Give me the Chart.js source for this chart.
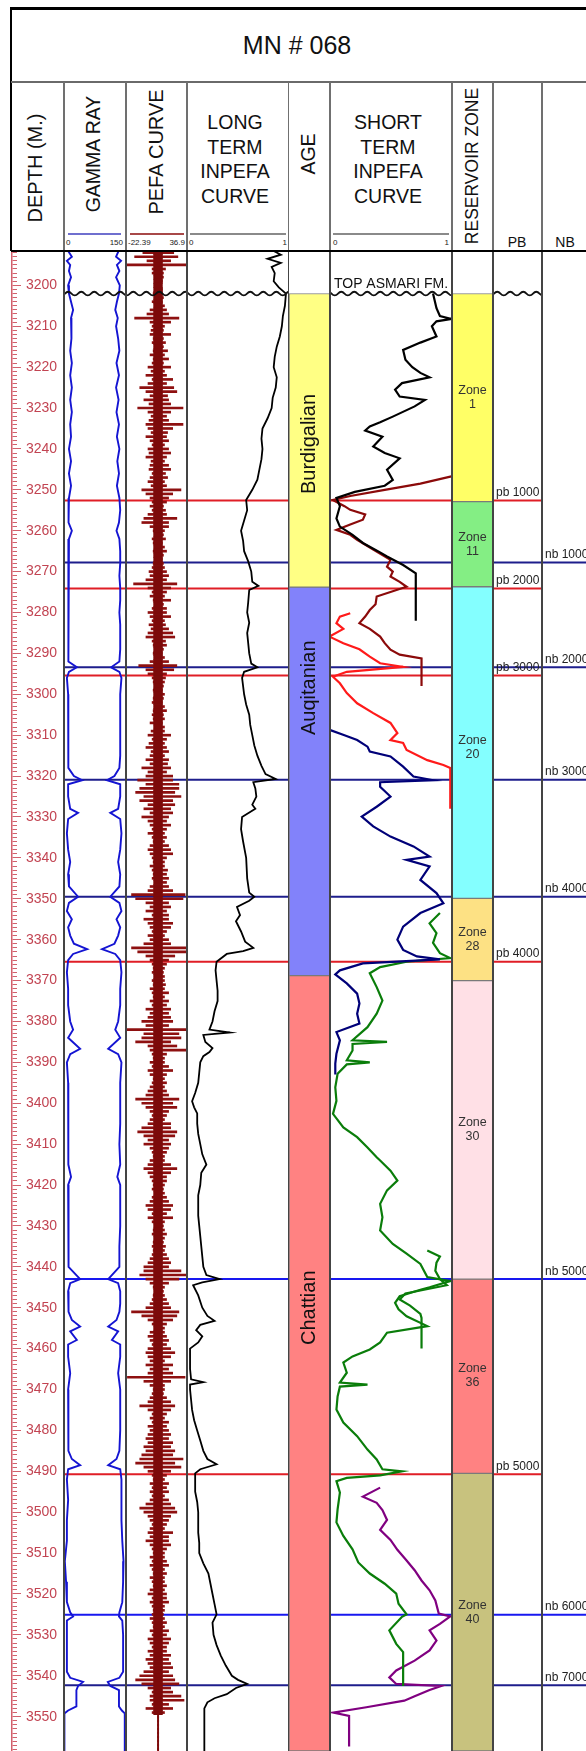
<!DOCTYPE html>
<html>
<head>
<meta charset="utf-8">
<script src="https://cdn.jsdelivr.net/npm/chart.js@4.4.1/dist/chart.umd.min.js"></script>
<style>
html, body { margin: 0; padding: 0; background: #fff; }
#page { position: relative; width: 586px; height: 1751px; overflow: hidden; font-family: Arial, "Liberation Sans", sans-serif; color: #111; }
#page canvas { position: absolute; top: 251px; }
.ln { position: absolute; }
.t { position: absolute; white-space: nowrap; line-height: 1; }
.c { transform: translate(-50%, -50%); text-align: center; }
.r90 { transform: translate(-50%, -50%) rotate(-90deg); }
.l { transform: translate(0, -50%); }
.rt { transform: translate(-100%, -50%); }
.sc { font-size: 8px; color: #222; top: 243px; }
</style>
</head>
<body>
<div id="page">
  <div class="t c" style="left:297px;top:45px;font-size:25px">MN # 068</div>
  <div class="t r90" style="left:35px;top:168px;font-size:20px">DEPTH (M.)</div>
  <div class="t r90" style="left:94px;top:154px;font-size:19.5px">GAMMA RAY</div>
  <div class="t r90" style="left:156px;top:152px;font-size:20px">PEFA CURVE</div>
  <div class="t c" style="left:235px;top:159px;font-size:19.5px;line-height:24.5px">LONG<br>TERM<br>INPEFA<br>CURVE</div>
  <div class="t r90" style="left:309px;top:154px;font-size:19.5px">AGE</div>
  <div class="t c" style="left:388px;top:159px;font-size:19.5px;line-height:24.5px">SHORT<br>TERM<br>INPEFA<br>CURVE</div>
  <div class="t r90" style="left:473px;top:166px;font-size:17.5px">RESERVOIR ZONE</div>
  <div class="t c" style="left:517px;top:242px;font-size:14px">PB</div>
  <div class="t c" style="left:565px;top:242px;font-size:14px">NB</div>

  <div class="ln" style="left:68px;top:233px;width:53px;height:2px;background:#6f6fcf"></div>
  <div class="ln" style="left:130px;top:233px;width:54px;height:2px;background:#a84848"></div>
  <div class="ln" style="left:190px;top:233px;width:96px;height:2px;background:#8a8a8a"></div>
  <div class="ln" style="left:333px;top:233px;width:116px;height:2px;background:#8a8a8a"></div>
  <div class="t sc l" style="left:66px">0</div>
  <div class="t sc rt" style="left:123px">150</div>
  <div class="t sc l" style="left:128px">-22.39</div>
  <div class="t sc rt" style="left:185px">36.9</div>
  <div class="t sc l" style="left:189px">0</div>
  <div class="t sc rt" style="left:287px">1</div>
  <div class="t sc l" style="left:333px">0</div>
  <div class="t sc rt" style="left:449px">1</div>
</div>
<script>
// depth window of the log (m)
const DEPTH_MIN = 3191.6;
const DEPTH_MAX = 3558.4;
const topAsmariDepth = 3202;

// boundaries
const pbDepths = [3252.6, 3274.1, 3295.4, 3365.4, 3490.7];
const pbLabels = ['pb 1000', 'pb 2000', 'pb 3000', 'pb 4000', 'pb 5000'];
const nbDepths = [3267.8, 3293.4, 3320.9, 3349.5, 3443.0, 3525.1, 3542.3];
const nbLabels = ['nb 1000', 'nb 2000', 'nb 3000', 'nb 4000', 'nb 5000', 'nb 6000', 'nb 7000'];

// age column
const ageNames = ['Burdigalian', 'Auqitanian', 'Chattian'];
const ageTop = [3202, 3273.8, 3368.8];
const ageBase = [3273.8, 3368.8, 3558.4];
const ageLabelDepth = [3238.8, 3298.4, 3450.0];

// reservoir zones
const zoneNames = ['Zone\n1', 'Zone\n11', 'Zone\n20', 'Zone\n28', 'Zone\n30', 'Zone\n36', 'Zone\n40'];
const zoneTop = [3202, 3252.9, 3273.7, 3349.9, 3370.0, 3443.0, 3490.5];
const zoneBase = [3252.9, 3273.7, 3349.9, 3370.0, 3443.0, 3490.5, 3558.4];
const zoneLabelDepth = [3227.4, 3263.5, 3313.0, 3359.9, 3406.5, 3466.6, 3524.6];

// gamma ray, two traces [depth, API]
const grLeft = [[3191.6,10],[3193,19],[3194,7],[3195,15],[3196.5,12],[3198,17],[3200,10],[3202,12],[3204,17],[3206,22],[3208,17],[3210,19],[3213,17],[3216,15],[3219,19],[3222,15],[3225,19],[3228,15],[3231,19],[3234,15],[3237,17],[3240,12],[3243,17],[3246,12],[3249,17],[3252,12],[3255,10],[3258,12],[3260,19],[3262,12],[3265,10],[3268,10],[3271,12],[3274,10],[3277,10],[3280,12],[3283,10],[3286,10],[3289,10],[3292,12],[3293.4,31],[3294.5,12],[3296,7],[3300,10],[3305,10],[3310,10],[3315,10],[3318,12],[3320,24],[3321,44],[3322,10],[3325,10],[3328,15],[3329,34],[3330.5,10],[3334,7],[3338,10],[3341,15],[3344,10],[3347,12],[3349.5,34],[3351,12],[3353,7],[3355,19],[3357,10],[3359,15],[3361,24],[3362.3,56],[3363.5,22],[3365,10],[3368,7],[3372,10],[3376,10],[3380,15],[3382,22],[3384,10],[3386.7,39],[3388,15],[3390,7],[3395,10],[3400,10],[3405,10],[3410,12],[3415,10],[3418,17],[3420,10],[3425,10],[3430,10],[3435,12],[3440,12],[3443,39],[3444,15],[3446,10],[3449,10],[3451,12],[3453,19],[3454.6,39],[3455.8,15],[3457.9,31],[3459,10],[3462,10],[3466,15],[3470,10],[3475,10],[3480,10],[3485,12],[3487,19],[3488.5,39],[3489.5,10],[3492,7],[3497,10],[3502,7],[3507,7],[3512,2],[3517,5],[3522,7],[3524.5,15],[3525.5,22],[3526.5,7],[3530,7],[3535,7],[3539,7],[3540.5,15],[3541.5,46],[3542.5,34],[3543.5,30],[3547.5,30],[3548.5,10],[3549.2,1],[3558.4,1]];
const grRight = [[3191.6,132],[3193,126],[3194,138],[3195,128],[3196.5,134],[3198,126],[3200,135],[3202,133],[3204,128],[3206,124],[3208,130],[3210,126],[3213,131],[3216,134],[3219,127],[3222,133],[3225,126],[3228,132],[3231,127],[3234,133],[3237,128],[3240,134],[3243,129],[3246,133],[3249,128],[3252,134],[3255,136],[3258,133],[3260,127],[3262,134],[3265,136],[3268,136],[3271,134],[3274,136],[3277,136],[3280,134],[3283,136],[3286,136],[3289,136],[3292,134],[3293.4,114],[3294.5,134],[3296,139],[3300,136],[3305,136],[3310,136],[3315,136],[3318,134],[3320,122],[3321,104],[3322,136],[3325,136],[3328,131],[3329,112],[3330.5,136],[3334,139],[3338,136],[3341,131],[3344,136],[3347,134],[3349.5,112],[3351,134],[3353,139],[3355,127],[3357,136],[3359,131],[3361,122],[3362.3,92],[3363.5,124],[3365,136],[3368,139],[3372,136],[3376,136],[3380,131],[3382,124],[3384,136],[3386.7,107],[3388,131],[3390,139],[3395,136],[3400,136],[3405,136],[3410,134],[3415,136],[3418,129],[3420,136],[3425,136],[3430,136],[3435,134],[3440,134],[3443,107],[3444,131],[3446,136],[3449,136],[3451,134],[3453,127],[3454.6,107],[3455.8,131],[3457.9,116],[3459,136],[3462,136],[3466,131],[3470,136],[3475,136],[3480,136],[3485,134],[3487,127],[3488.5,107],[3489.5,136],[3492,139],[3497,138],[3502,140],[3507,141],[3512,144],[3517,143],[3522,141],[3524.5,134],[3525.5,133],[3526.5,141],[3530,143],[3535,143],[3539,143],[3540.5,134],[3541.5,106],[3542.5,112],[3543.5,133],[3547.5,133],[3548.5,140],[3549.2,147],[3558.4,147]];

// PEFA: [low, high] per metre starting at 3192 m
const PEFA_START = 3192;
const pefaRange = [
  [-6,24],[-14,28],[-2,21],[-22.4,36.9],[3,16],[3,14],[5,14],[6,13],[5,12],[6,13],
  [4,13],[5,14],[3,13],[5,15],[1,17],[-2,19],[-14,29],[1,21],[3,15],[2,14],
  [1,21],[4,14],[3,16],[5,14],[4,18],[1,15],[4,19],[3,14],[-1,21],[2,15],
  [-3,17],[3,23],[-1,17],[-9,24],[-3,27],[1,18],[-5,19],[0,21],[-11,33],[-1,21],
  [2,17],[0,19],[-3,33],[-1,23],[2,18],[-3,17],[1,19],[3,15],[-1,19],[0,21],
  [-3,17],[2,15],[1,19],[0,21],[3,16],[1,18],[-1,15],[2,17],[-7,31],[-3,23],
  [1,19],[3,17],[1,14],[3,16],[-1,17],[-5,27],[-7,19],[1,19],[4,15],[5,14],
  [3,16],[4,13],[5,15],[4,17],[5,14],[6,13],[4,14],[3,15],[0,17],[1,19],
  [-3,17],[-15,27],[-1,21],[3,17],[1,15],[4,21],[5,14],[3,17],[-1,17],[1,21],
  [3,15],[0,16],[2,19],[-1,23],[-3,25],[3,16],[4,17],[5,14],[4,13],[5,15],
  [1,19],[-10,27],[-3,24],[-1,17],[3,16],[4,15],[5,14],[4,13],[5,15],[4,14],
  [3,13],[5,15],[4,17],[3,14],[4,15],[1,13],[5,15],[2,15],[-1,21],[3,17],
  [0,15],[-3,17],[2,19],[1,15],[-3,19],[1,18],[-7,21],[-1,17],[-3,23],[-11,23],
  [-3,29],[-9,29],[-13,25],[-5,31],[-9,23],[-1,25],[-5,21],[1,23],[-7,19],[-1,17],
  [1,21],[3,17],[-1,15],[3,17],[4,15],[1,19],[-1,21],[1,23],[3,17],[4,15],
  [1,15],[3,18],[4,17],[3,19],[5,17],[1,19],[-1,23],[-17,35],[-13,33],[-3,19],
  [1,21],[-3,17],[3,19],[-5,19],[-1,23],[1,21],[3,17],[-1,15],[1,19],[-5,21],
  [-17,36.9],[-11,36.9],[-3,25],[1,19],[3,17],[4,15],[3,14],[5,15],[3,15],[4,16],
  [1,15],[3,19],[4,15],[1,19],[3,17],[-3,21],[1,19],[-1,21],[-7,23],[-3,19],
  [-22.4,36.9],[-5,29],[-7,31],[-13,21],[-1,27],[1,36.9],[3,17],[4,15],[1,15],[3,19],
  [-1,23],[1,17],[4,15],[3,17],[1,15],[-1,17],[-3,19],[-13,29],[-7,23],[-3,27],
  [1,19],[3,17],[1,15],[-1,21],[-7,21],[-11,27],[-5,25],[-1,19],[-5,21],[1,19],
  [3,17],[4,15],[1,15],[-1,21],[-5,27],[-1,21],[1,17],[3,17],[4,15],[3,14],
  [5,15],[3,17],[1,19],[-3,23],[-1,21],[3,17],[-1,23],[3,15],[5,14],[4,15],
  [3,17],[5,15],[4,14],[3,16],[4,15],[3,17],[1,19],[-1,21],[-5,19],[-5,31],
  [-9,36.9],[-3,29],[1,19],[4,15],[5,14],[4,15],[3,17],[1,19],[-3,21],[-17,29],
  [-7,27],[-1,23],[3,17],[5,15],[1,15],[-1,17],[1,19],[3,17],[-1,21],[-3,25],
  [-1,21],[1,15],[-3,23],[1,19],[-1,23],[-21,35],[-5,21],[1,15],[4,15],[3,14],
  [1,17],[-1,21],[-9,25],[-1,21],[3,17],[1,15],[3,19],[-1,17],[1,19],[-1,21],
  [-3,19],[-1,23],[-5,21],[-3,25],[-7,23],[-9,33],[-13,25],[-5,31],[-1,21],[3,17],
  [4,15],[1,19],[3,17],[1,19],[3,15],[1,19],[-3,21],[-9,25],[-5,27],[-1,21],
  [1,19],[3,17],[1,15],[-1,23],[1,19],[-3,19],[1,21],[3,17],[4,15],[1,15],
  [3,17],[1,19],[3,15],[4,17],[1,15],[3,15],[4,17],[1,15],[-1,17],[3,17],
  [1,19],[3,15],[4,15],[3,14],[1,15],[3,17],[4,15],[1,19],[3,17],[-1,21],
  [1,19],[3,17],[-1,17],[1,21],[-3,19],[-1,21],[1,23],[-5,19],[-9,23],[-13,25],
  [-7,29],[-1,21],[3,23],[1,31],[1,34],[3,19],[-3,23],[3,15],[8.2,9.4],[8.2,9.4],
  [8.2,9.4],[8.2,9.4],[8.2,9.4],[8.2,9.4],[8.2,9.4],[8.2,9.4],[8.2,9.4]
];
const PEFA_CORE = [4.5, 13]; // dense centre band of the trace
const PEFA_CORE_END = 358;   // below this index the log is a flat line

// long term INPEFA [depth, value 0..1]
const ltCurve = [[3191.6,0.85],[3192.5,0.92],[3193.5,0.79],[3194.5,0.92],[3195.5,0.83],[3197.0,0.86],[3199.0,0.85],[3200.5,0.90],[3202.0,0.97],[3205.0,0.96],[3207.5,0.94],[3210.0,0.93],[3212.5,0.91],[3215.0,0.88],[3217.5,0.86],[3220.0,0.85],[3222.5,0.88],[3225.0,0.87],[3227.5,0.84],[3230.0,0.83],[3232.5,0.79],[3235.0,0.74],[3237.5,0.73],[3240.0,0.74],[3242.5,0.73],[3245.0,0.71],[3247.5,0.69],[3250.0,0.64],[3252.5,0.58],[3255.0,0.59],[3257.5,0.56],[3260.0,0.53],[3262.5,0.55],[3265.0,0.56],[3267.5,0.60],[3270.0,0.63],[3272.5,0.64],[3273.5,0.70],[3274.5,0.61],[3277.5,0.60],[3280.0,0.59],[3282.5,0.61],[3285.0,0.59],[3287.5,0.60],[3290.0,0.61],[3292.5,0.63],[3293.4,0.69],[3294.5,0.56],[3296.0,0.54],[3300.0,0.56],[3302.5,0.58],[3305.0,0.61],[3307.5,0.62],[3310.0,0.64],[3312.5,0.66],[3315.0,0.69],[3317.5,0.73],[3319.5,0.77],[3320.7,0.87],[3321.5,0.65],[3323.0,0.67],[3325.0,0.68],[3327.0,0.64],[3328.0,0.67],[3330.0,0.54],[3333.0,0.53],[3336.0,0.55],[3340.0,0.58],[3345.0,0.59],[3348.5,0.61],[3349.5,0.66],[3350.5,0.61],[3352.0,0.49],[3354.0,0.52],[3355.5,0.48],[3358.0,0.53],[3360.5,0.57],[3362.0,0.65],[3362.8,0.55],[3363.5,0.39],[3365.4,0.29],[3367.5,0.28],[3370.0,0.29],[3372.5,0.30],[3375.0,0.30],[3377.5,0.27],[3380.0,0.25],[3382.0,0.22],[3382.7,0.42],[3383.3,0.16],[3385.0,0.18],[3386.5,0.25],[3387.5,0.22],[3388.5,0.16],[3390.0,0.13],[3392.5,0.12],[3395.0,0.11],[3397.5,0.08],[3399.5,0.05],[3401.0,0.07],[3402.5,0.10],[3405.0,0.10],[3407.5,0.11],[3410.0,0.13],[3412.5,0.15],[3415.0,0.19],[3417.0,0.14],[3420.0,0.13],[3422.5,0.11],[3425.0,0.11],[3427.5,0.11],[3430.0,0.12],[3432.5,0.13],[3435.0,0.14],[3437.5,0.15],[3440.0,0.16],[3442.0,0.19],[3443.0,0.32],[3443.8,0.15],[3444.5,0.06],[3447.0,0.11],[3450.0,0.15],[3452.0,0.20],[3453.2,0.27],[3454.2,0.13],[3455.5,0.09],[3457.0,0.15],[3458.5,0.11],[3460.0,0.03],[3462.5,0.03],[3465.0,0.03],[3467.5,0.04],[3468.2,0.16],[3468.8,0.03],[3470.0,0.03],[3472.5,0.04],[3475.0,0.05],[3477.5,0.07],[3480.0,0.10],[3482.5,0.13],[3485.0,0.16],[3487.0,0.20],[3488.3,0.29],[3489.5,0.13],[3490.5,0.08],[3492.5,0.08],[3495.0,0.08],[3497.5,0.10],[3500.0,0.11],[3502.5,0.11],[3505.0,0.11],[3507.5,0.12],[3510.0,0.12],[3512.5,0.16],[3515.0,0.21],[3517.5,0.23],[3520.0,0.25],[3522.5,0.27],[3525.0,0.29],[3527.0,0.25],[3530.0,0.26],[3532.5,0.29],[3535.0,0.33],[3537.5,0.38],[3540.0,0.44],[3541.0,0.50],[3542.0,0.59],[3543.0,0.48],[3544.5,0.39],[3545.5,0.27],[3546.5,0.20],[3548.0,0.17],[3558.4,0.17]];

// short term INPEFA segments [depth, value 0..1]
const stBlack = [[3202.0,0.87],[3205.6,0.90],[3207.5,0.93],[3208.2,1.03],[3208.8,0.90],[3210.0,0.86],[3212.5,0.90],[3214.0,0.76],[3215.8,0.61],[3218.2,0.63],[3220.0,0.69],[3221.4,0.76],[3222.5,0.84],[3223.9,0.60],[3225.5,0.54],[3227.2,0.58],[3228.0,0.80],[3229.6,0.71],[3232.1,0.52],[3233.5,0.41],[3234.5,0.32],[3235.5,0.28],[3237.0,0.43],[3239.4,0.35],[3241.0,0.45],[3242.3,0.58],[3245.1,0.47],[3247.6,0.52],[3249.0,0.45],[3250.5,0.19],[3252.0,0.03],[3254.0,0.06],[3257.0,0.03],[3259.0,0.06],[3261.0,0.17],[3263.0,0.26],[3265.0,0.39],[3266.3,0.47],[3268.4,0.61],[3270.4,0.72],[3282.0,0.72]];
const stDarkRed = [[3246.7,1.03],[3248.5,0.76],[3250.0,0.45],[3251.5,0.15],[3252.5,0.00],[3254.0,0.10],[3254.9,0.15],[3256.0,0.28],[3257.3,0.26],[3258.5,0.15],[3259.8,0.03],[3261.0,0.15],[3262.2,0.21],[3264.6,0.35],[3267.1,0.50],[3268.8,0.47],[3270.0,0.52],[3271.2,0.50],[3272.5,0.58],[3273.7,0.64],[3275.0,0.50],[3276.1,0.38],[3278.0,0.37],[3279.4,0.32],[3281.0,0.28],[3282.6,0.23],[3284.0,0.32],[3285.9,0.41],[3287.5,0.45],[3289.1,0.50],[3290.3,0.58],[3291.2,0.77],[3298.0,0.77]];
const stRed = [[3280.2,0.15],[3281.0,0.06],[3282.6,0.03],[3284.0,0.09],[3285.9,-0.03],[3287.5,0.09],[3289.0,0.23],[3290.8,0.32],[3292.4,0.41],[3293.3,0.61],[3294.5,0.12],[3295.7,0.00],[3297.3,0.06],[3299.7,0.12],[3302.2,0.21],[3304.6,0.35],[3307.0,0.50],[3309.5,0.56],[3311.2,0.50],[3311.9,0.61],[3313.6,0.64],[3316.1,0.82],[3317.3,0.96],[3318.0,1.02],[3328.0,1.02]];
const stNavy = [[3308.7,-0.03],[3310.0,0.10],[3311.2,0.21],[3312.8,0.30],[3314.0,0.32],[3315.2,0.50],[3317.7,0.61],[3320.1,0.70],[3321.0,0.87],[3321.5,0.41],[3322.6,0.41],[3325.0,0.50],[3327.5,0.38],[3329.9,0.25],[3332.3,0.35],[3334.8,0.50],[3337.2,0.70],[3339.7,0.84],[3340.5,0.64],[3342.1,0.84],[3345.4,0.76],[3348.6,0.90],[3351.1,0.96],[3353.5,0.76],[3356.8,0.61],[3360.0,0.56],[3362.5,0.61],[3364.1,0.73],[3364.8,0.93],[3365.8,0.26],[3367.5,0.06],[3368.5,0.02],[3370.7,0.12],[3373.2,0.21],[3375.6,0.23],[3378.1,0.21],[3380.5,0.23],[3382.6,0.03],[3384.6,0.06],[3387.9,0.03],[3390.3,0.02],[3393.0,0.02]];
const stGreen = [[3353.5,0.93],[3356.0,0.84],[3358.4,0.90],[3360.8,0.87],[3363.3,0.93],[3364.5,1.02],[3365.4,0.64],[3366.7,0.41],[3368.2,0.32],[3371.6,0.38],[3374.9,0.43],[3378.1,0.38],[3381.4,0.30],[3384.6,0.17],[3385.0,0.47],[3385.5,0.17],[3387.1,0.17],[3389.5,0.12],[3390.0,0.32],[3390.5,0.12],[3392.8,0.04],[3396.1,0.02],[3399.4,0.03],[3402.6,0.00],[3405.9,0.09],[3408.3,0.21],[3410.8,0.30],[3413.2,0.38],[3414.0,0.41],[3416.5,0.50],[3418.9,0.56],[3421.3,0.47],[3424.6,0.41],[3427.9,0.43],[3431.1,0.41],[3434.4,0.52],[3436.8,0.64],[3439.3,0.76],[3442.5,0.82],[3443.5,1.02],[3445.0,0.84],[3445.6,0.76],[3447.2,0.58],[3448.8,0.54],[3450.4,0.57],[3452.1,0.64],[3454.5,0.82],[3456.1,0.47],[3458.5,0.41],[3460.2,0.32],[3461.9,0.17],[3463.4,0.09],[3465.9,0.12],[3468.3,0.06],[3468.8,0.30],[3469.3,0.06],[3471.7,0.04],[3474.9,0.03],[3478.1,0.09],[3481.4,0.21],[3484.7,0.30],[3487.1,0.38],[3489.5,0.43],[3490.0,0.60],[3491.0,0.41],[3491.6,0.12],[3492.4,0.03],[3495.2,0.06],[3499.3,0.04],[3502.5,0.03],[3505.8,0.09],[3509.1,0.17],[3512.3,0.22],[3515.0,0.32],[3517.5,0.45],[3519.9,0.55],[3522.4,0.57],[3525.0,0.64],[3525.6,0.60],[3528.9,0.49],[3532.2,0.55],[3534.2,0.61],[3542.5,0.61]];
const stGreen2 = [[3436.0,0.82],[3437.5,0.93],[3439.0,0.90],[3441.0,0.89],[3443.0,0.93],[3444.5,0.99],[3446.5,0.63],[3448.0,0.58],[3449.5,0.67],[3451.5,0.76],[3452.5,0.77],[3460.0,0.77]];
const stPurple = [[3494.0,0.41],[3496.2,0.26],[3497.7,0.38],[3499.5,0.43],[3501.9,0.47],[3504.3,0.41],[3506.8,0.50],[3509.2,0.56],[3511.8,0.64],[3514.2,0.71],[3516.7,0.77],[3519.1,0.84],[3521.6,0.89],[3524.8,0.92],[3525.5,1.02],[3527.3,0.93],[3528.9,0.84],[3531.4,0.90],[3533.8,0.84],[3536.3,0.71],[3538.7,0.55],[3540.4,0.49],[3542.0,0.55],[3542.5,0.94],[3543.5,0.84],[3545.0,0.71],[3546.1,0.62],[3547.7,0.29],[3549.0,0.00],[3549.8,0.14],[3557.3,0.14]];

// ---- styling / layout ----
const cols = { depth: [7, 57], gr: [64, 62], pefa: [126, 61], lt: [187, 102], age: [289, 41], st: [330, 122], res: [452, 41], pb: [493, 49], nb: [542, 44] };
const ageColors = ['#ffff84', '#8282fa', '#ff8282'];
const zoneColors = ['#ffff66', '#84ee84', '#84ffff', '#fde184', '#ffe0e6', '#ff8282', '#c8c27e'];
const PB_LINE = '#e01e26';
const nbLineColors = ['#1e1e8c', '#1e1e8c', '#1e1e8c', '#1e1e8c', '#1818f0', '#1818f0', '#1e1e8c'];
const AXIS_RED = '#c24452';

Chart.defaults.font.family = 'Arial, "Liberation Sans", sans-serif';
const page = document.getElementById('page');

function addCanvas(col) {
  const [left, width] = cols[col];
  const cv = document.createElement('canvas');
  cv.width = width;
  cv.height = 1500;
  cv.style.left = left + 'px';
  cv.style.width = width + 'px';
  cv.style.height = '1500px';
  page.appendChild(cv);
  return cv;
}

function baseOptions(xScale) {
  return {
    responsive: false, devicePixelRatio: 1, animation: false, events: [],
    layout: { padding: 0 },
    plugins: { legend: { display: false }, tooltip: { enabled: false } },
    scales: {
      x: xScale,
      y: { type: 'linear', display: false, reverse: true, offset: false, grid: { offset: false }, min: DEPTH_MIN, max: DEPTH_MAX }
    }
  };
}

function curve(points, color, width) {
  return {
    type: 'scatter', showLine: true, order: 0,
    data: points.map(p => ({ x: p[1], y: p[0] })),
    borderColor: color, borderWidth: width || 1.5, pointRadius: 0
  };
}

function hline(d, xmin, xmax, color) {
  return {
    type: 'scatter', showLine: true, order: 2,
    data: [{ x: xmin, y: d }, { x: xmax, y: d }],
    borderColor: color, borderWidth: 2, pointRadius: 0
  };
}

function markerSets(xmin, xmax, withPb, withNb) {
  const out = [];
  if (withNb) nbDepths.forEach((d, i) => out.push(hline(d, xmin, xmax, nbLineColors[i])));
  if (withPb) pbDepths.forEach(d => out.push(hline(d, xmin, xmax, PB_LINE)));
  return out;
}

// wavy formation top
const waveLine = {
  id: 'waveLine',
  afterDatasetsDraw(chart) {
    const { ctx, chartArea: { left, right }, scales: { y } } = chart;
    const yy = y.getPixelForValue(topAsmariDepth);
    const p = 13;
    let x = left - ((chart.canvas.offsetLeft + left) % p);
    ctx.save();
    ctx.beginPath();
    ctx.rect(left, yy - 6, right - left, 12);
    ctx.clip();
    ctx.beginPath();
    ctx.moveTo(x, yy);
    for (; x < right; x += p) {
      ctx.quadraticCurveTo(x + p / 4, yy - 3.6, x + p / 2, yy);
      ctx.quadraticCurveTo(x + 3 * p / 4, yy + 3.6, x + p, yy);
    }
    ctx.lineWidth = 1.8;
    ctx.strokeStyle = '#111';
    ctx.stroke();
    ctx.restore();
  }
};

// text drawn at a depth
function textPlugin(items) {
  return {
    id: 'trackText',
    afterDatasetsDraw(chart) {
      const { ctx, chartArea: { left, right }, scales: { y } } = chart;
      items.forEach(it => {
        const yy = y.getPixelForValue(it.depth);
        ctx.save();
        ctx.font = it.font;
        ctx.fillStyle = it.color || '#222';
        if (it.rotate) {
          ctx.translate((left + right) / 2, yy);
          ctx.rotate(-Math.PI / 2);
          ctx.textAlign = 'center';
          ctx.textBaseline = 'middle';
          ctx.fillText(it.text, 0, 0);
        } else {
          const lines = it.text.split('\n');
          const x = it.align === 'left' ? left + (it.dx || 0) : (left + right) / 2;
          ctx.textAlign = it.align || 'center';
          ctx.textBaseline = it.baseline || 'middle';
          lines.forEach((ln, k) => {
            ctx.fillText(ln, x, yy + (it.dy || 0) + (k - (lines.length - 1) / 2) * (it.lh || 14));
          });
        }
        ctx.restore();
      });
    }
  };
}

// ---- depth axis ----
new Chart(addCanvas('depth'), {
  type: 'scatter',
  data: { datasets: [] },
  options: {
    responsive: false, devicePixelRatio: 1, animation: false, events: [],
    layout: { padding: 0 },
    plugins: { legend: { display: false }, tooltip: { enabled: false } },
    scales: {
      x: { type: 'linear', display: false, min: 0, max: 1 },
      y: {
        type: 'linear', position: 'right', reverse: true, min: DEPTH_MIN, max: DEPTH_MAX,
        ticks: { display: false, stepSize: 1, includeBounds: false, autoSkip: false },
        grid: { drawOnChartArea: false, tickLength: 5, tickColor: '#d2606c', tickWidth: 1 },
        border: { display: true, color: '#d2606c', width: 1.5 },
        afterFit(s) { s.width = 5; s.paddingTop = 0; s.paddingBottom = 0; }
      },
      y2: {
        type: 'linear', position: 'right', reverse: true, min: DEPTH_MIN, max: DEPTH_MAX,
        ticks: { stepSize: 10, includeBounds: false, autoSkip: false, color: AXIS_RED, font: { size: 14 }, padding: 5, callback: v => String(v) },
        grid: { drawOnChartArea: false, tickLength: 4, tickColor: '#d2606c', tickWidth: 1 },
        border: { display: false },
        afterFit(s) { s.width = 47; s.paddingTop = 0; s.paddingBottom = 0; }
      }
    }
  }
});

// ---- gamma ray ----
new Chart(addCanvas('gr'), {
  type: 'scatter',
  data: { datasets: [curve(grLeft, '#1414d2', 1.9), curve(grRight, '#1414d2', 1.9), ...markerSets(0, 150, true, true)] },
  options: baseOptions({ type: 'linear', display: false, min: 0, max: 150 }),
  plugins: [waveLine]
});

// ---- PEFA ----
new Chart(addCanvas('pefa'), {
  type: 'scatter',
  data: {
    datasets: [{
      type: 'bar', indexAxis: 'y', grouped: false, order: 0,
      data: pefaRange.map((r, i) => ({ y: PEFA_START + i, x: i < PEFA_CORE_END ? PEFA_CORE : r })),
      backgroundColor: '#7c0a0a', borderWidth: 0, barThickness: 4.2
    }, {
      type: 'bar', indexAxis: 'y', grouped: false, order: 0,
      data: pefaRange.map((r, i) => ({ y: PEFA_START + i, x: r })),
      backgroundColor: '#8e1010', borderWidth: 0, barThickness: 2
    }, ...markerSets(-22.39, 36.9, true, true)]
  },
  options: baseOptions({ type: 'linear', display: false, min: -22.39, max: 36.9 }),
  plugins: [waveLine]
});

// ---- long term INPEFA ----
new Chart(addCanvas('lt'), {
  type: 'scatter',
  data: { datasets: [curve(ltCurve, '#000', 1.8), ...markerSets(0, 1, true, true)] },
  options: baseOptions({ type: 'linear', display: false, min: 0, max: 1 }),
  plugins: [waveLine]
});

// ---- age column ----
function boxChart(col, tops, bases, colors, items) {
  return new Chart(addCanvas(col), {
    type: 'bar',
    data: {
      labels: [''],
      datasets: tops.map((t, i) => ({
        data: [[t, bases[i]]], backgroundColor: colors[i], borderColor: '#7a7a7a', borderWidth: 1,
        borderSkipped: false, grouped: false, barPercentage: 1, categoryPercentage: 1
      }))
    },
    options: baseOptions({ type: 'category', display: false }),
    plugins: [textPlugin(items)]
  });
}
boxChart('age', ageTop, ageBase, ageColors,
  ageNames.map((n, i) => ({ text: n, depth: ageLabelDepth[i], rotate: true, font: '20px Arial, "Liberation Sans", sans-serif', color: '#111' })));

// ---- short term INPEFA ----
new Chart(addCanvas('st'), {
  type: 'scatter',
  data: {
    datasets: [
      curve(stBlack, '#000', 2.2),
      curve(stDarkRed, '#8b0a0a', 2.2),
      curve(stRed, '#ff1a1a', 2.2),
      curve(stNavy, '#000078', 2.2),
      curve(stGreen, '#0a7d0a', 2.2),
      curve(stGreen2, '#0a7d0a', 2.2),
      curve(stPurple, '#800080', 2.2),
      ...markerSets(-0.026, 1.035, true, true)
    ]
  },
  options: baseOptions({ type: 'linear', display: false, min: -0.026, max: 1.035 }),
  plugins: [waveLine, textPlugin([{ text: 'TOP ASMARI FM.', depth: topAsmariDepth, dy: -6, baseline: 'alphabetic', font: '14px Arial, "Liberation Sans", sans-serif', color: '#111' }])]
});

// ---- reservoir zones ----
boxChart('res', zoneTop, zoneBase, zoneColors,
  zoneNames.map((n, i) => ({ text: n, depth: zoneLabelDepth[i], lh: 14, font: '12.5px Arial, "Liberation Sans", sans-serif', color: '#333' })));

// ---- PB / NB ----
new Chart(addCanvas('pb'), {
  type: 'scatter',
  data: { datasets: markerSets(0, 1, true, true) },
  options: baseOptions({ type: 'linear', display: false, min: 0, max: 1 }),
  plugins: [waveLine, textPlugin(pbLabels.map((t, i) => ({ text: t, depth: pbDepths[i], align: 'left', dx: 3, dy: -4.5, baseline: 'alphabetic', font: '12px Arial, "Liberation Sans", sans-serif', color: '#222' })))]
});
new Chart(addCanvas('nb'), {
  type: 'scatter',
  data: { datasets: markerSets(0, 1, false, true) },
  options: baseOptions({ type: 'linear', display: false, min: 0, max: 1 }),
  plugins: [textPlugin(nbLabels.map((t, i) => ({ text: t, depth: nbDepths[i], align: 'left', dx: 3, dy: -4.5, baseline: 'alphabetic', font: '12px Arial, "Liberation Sans", sans-serif', color: '#222' })))]
});

// ---- frame and column rules ----
function rule(x, y, w, h, color) {
  const d = document.createElement('div');
  d.className = 'ln';
  d.style.cssText = `left:${x}px;top:${y}px;width:${w}px;height:${h}px;background:${color}`;
  page.appendChild(d);
}
rule(10, 7, 576, 3, '#000');
rule(10, 7, 2, 244, '#000');
rule(11, 81, 575, 2, '#6a6a6a');
rule(11, 250, 575, 2, '#000');
[64, 126, 187, 288.5, 330, 452, 493, 542].forEach(x => {
  rule(x - 0.75, 82, 1.5, 168, '#707070');
  rule(x - 0.75, 252, 1.5, 1499, '#444');
});
</script>
</body>
</html>
